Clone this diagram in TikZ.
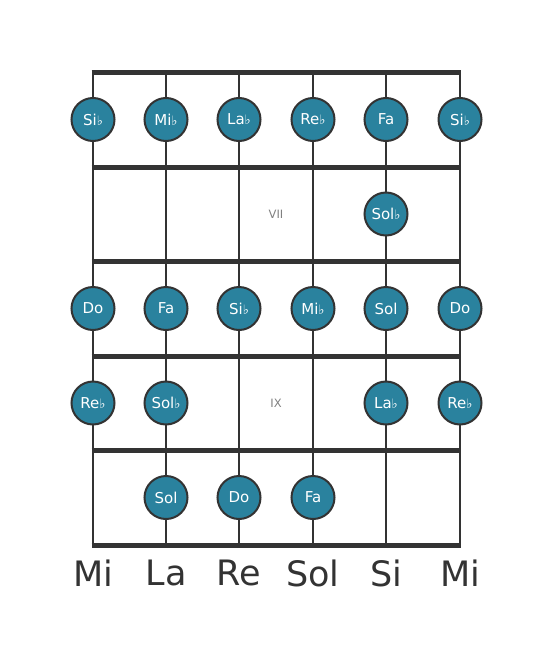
\documentclass[tikz,border=0pt]{standalone}
\usepackage{fontspec}
\setmainfont{DejaVu Sans}
\begin{document}
\begin{tikzpicture}[x=1pt,y=-1pt,
  dot/.style={circle,draw=dline,line width=2pt,fill=dotfill,minimum size=43pt,inner sep=0pt,text=white,font=\fontsize{15}{17}\selectfont},
  strg/.style={draw=dline,line width=2.8pt},
  fret/.style={draw=dline,line width=5pt},
  fnum/.style={text=gray,font=\fontsize{11.5}{13}\selectfont},
  sname/.style={text=dline,font=\fontsize{35}{40}\selectfont}]
\definecolor{dline}{HTML}{333333}
\definecolor{dotfill}{HTML}{2A829E}
\useasboundingbox (0,0) rectangle (553,656);
\foreach \x [count=\i] in {93,166,239,313,386,460} {
  \coordinate (st\i) at (\x,72);
  \coordinate (sb\i) at (\x,545);
  \draw[strg] (st\i) -- (sb\i);
}
\foreach \y [count=\j] in {72,167,261,356,450,545} {
  \coordinate (fl\j) at (93,\y);
  \coordinate (fr\j) at (460,\y);
  \draw[fret] ([xshift=-1.4pt]fl\j) -- ([xshift=1.4pt]fr\j);
}
\newcommand{\fl}{{\fontsize{13}{15}\selectfont ♭}}
% row 1
\node[dot] (a1) at (93,119.5) {Si\fl};
\node[dot] (a2) at (166,119.5) {Mi\fl};
\node[dot] (a3) at (239,119.5) {La\fl};
\node[dot] (a4) at (313,119.5) {Re\fl};
\node[dot] (a5) at (386,119.5) {Fa};
\node[dot] (a6) at (460,119.5) {Si\fl};
% row 2
\node[fnum] (vii) at (276,214) {VII};
\node[dot] (b5) at (386,214) {Sol\fl};
% row 3
\node[dot] (c1) at (93,308.5) {Do};
\node[dot] (c2) at (166,308.5) {Fa};
\node[dot] (c3) at (239,308.5) {Si\fl};
\node[dot] (c4) at (313,308.5) {Mi\fl};
\node[dot] (c5) at (386,308.5) {Sol};
\node[dot] (c6) at (460,308.5) {Do};
% row 4
\node[dot] (d1) at (93,403) {Re\fl};
\node[dot] (d2) at (166,403) {Sol\fl};
\node[fnum] (ix) at (276,403) {IX};
\node[dot] (d5) at (386,403) {La\fl};
\node[dot] (d6) at (460,403) {Re\fl};
% row 5
\node[dot] (e2) at (166,497.5) {Sol};
\node[dot] (e3) at (239,497.5) {Do};
\node[dot] (e4) at (313,497.5) {Fa};
% string names
\node[sname] (n1) at (93,573) {Mi};
\node[sname] (n2) at (166,573) {La};
\node[sname] (n3) at (239,573) {Re};
\node[sname] (n4) at (313,573) {Sol};
\node[sname] (n5) at (386,573) {Si};
\node[sname] (n6) at (460,573) {Mi};
\end{tikzpicture}
\end{document}
